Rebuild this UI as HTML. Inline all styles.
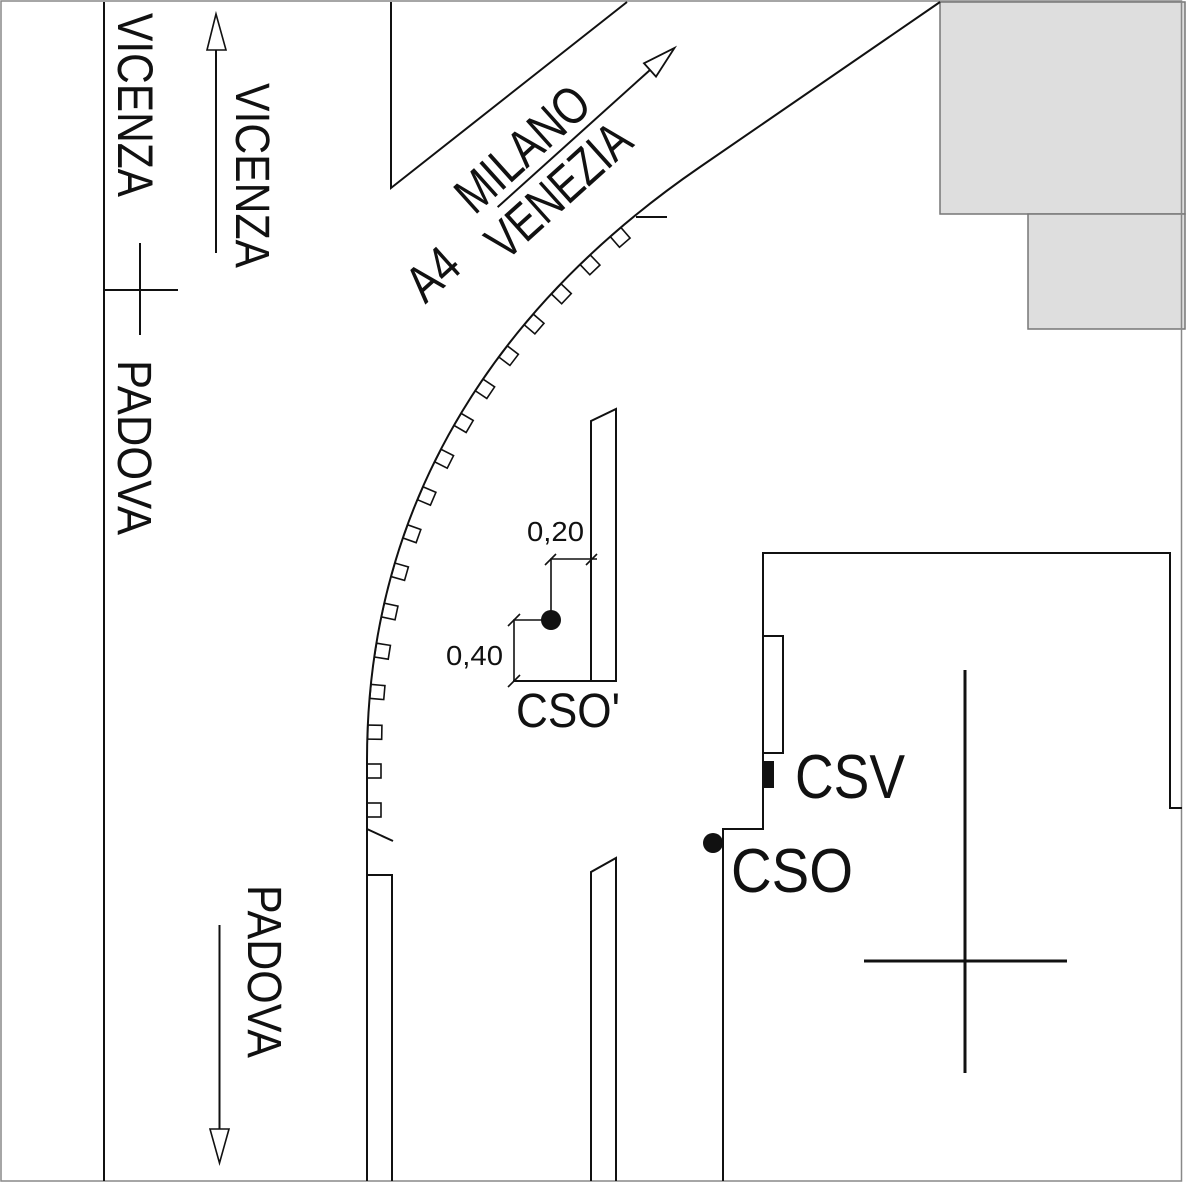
<!DOCTYPE html>
<html>
<head>
<meta charset="utf-8">
<style>
html,body{margin:0;padding:0;background:#fff;}
svg{display:block;}
text{font-family:"Liberation Sans",Arial,sans-serif;fill:#111;}
</style>
</head>
<body>
<svg width="1186" height="1183" viewBox="0 0 1186 1183" xmlns="http://www.w3.org/2000/svg">
<rect x="0" y="0" width="1186" height="1183" fill="#fff"/>

<!-- gray buildings top right -->
<rect x="940" y="2" width="245" height="212" fill="#dedede" stroke="#777" stroke-width="1.5"/>
<rect x="1028" y="214" width="157" height="115" fill="#dedede" stroke="#777" stroke-width="1.5"/>

<!-- frame -->
<rect x="1" y="1" width="1180.5" height="1180" fill="none" stroke="#888" stroke-width="1.5"/>

<g fill="none" stroke="#111" stroke-width="2" stroke-linejoin="miter">
  <!-- left road line and cross -->
  <path d="M104,2 V1181"/>
  <path d="M104,290 H178 M140,243 V335"/>
  <!-- up arrow -->
  <path d="M216,253 V50"/>
  <polygon points="216,14 207,50 226,50" stroke-width="1.6"/>
  <!-- down arrow -->
  <path d="M219.5,925 V1129"/>
  <polygon points="210,1129 229,1129 219.5,1163" stroke-width="1.6"/>

  <!-- upper left road wedge -->
  <path d="M391,2 V188 L627,2"/>

  <!-- curb curve -->
  <path d="M940,2 L700,167 C510.5,297 367,490 367,760 L367,1181"/>
  <path d="M636,217 H667"/>
  <path d="M367,829 L393,841"/>

  <!-- bottom-left island -->
  <path d="M367,1181 V875 H392 V1181"/>
  <!-- middle lower island -->
  <path d="M591,1181 V872 L616,858 V1181"/>
  <!-- upper island (CSO') -->
  <path d="M591,681 V421 L616,409 V681 H513"/>

  <!-- building -->
  <path d="M723,1181 V829 H763 V553 H1170 V808 H1182"/>
  <path d="M763,636 H783 V753 H763"/>
</g>

<!-- curb squares -->
<g fill="none" stroke="#111" stroke-width="1.6">
  <rect x="-7" y="-14" width="14" height="14" transform="translate(615.6,232.1) rotate(139.1)"/>
  <rect x="-7" y="-14" width="14" height="14" transform="translate(585.2,259.8) rotate(136.3)"/>
  <rect x="-7" y="-14" width="14" height="14" transform="translate(556.3,289.0) rotate(133.4)"/>
  <rect x="-7" y="-14" width="14" height="14" transform="translate(528.8,319.5) rotate(130.6)"/>
  <rect x="-7" y="-14" width="14" height="14" transform="translate(503.0,351.4) rotate(127.2)"/>
  <rect x="-7" y="-14" width="14" height="14" transform="translate(479.1,384.9) rotate(123.9)"/>
  <rect x="-7" y="-14" width="14" height="14" transform="translate(457.6,419.4) rotate(120.4)"/>
  <rect x="-7" y="-14" width="14" height="14" transform="translate(437.9,455.6) rotate(116.8)"/>
  <rect x="-7" y="-14" width="14" height="14" transform="translate(420.3,493.3) rotate(113.1)"/>
  <rect x="-7" y="-14" width="14" height="14" transform="translate(405.3,531.4) rotate(109.6)"/>
  <rect x="-7" y="-14" width="14" height="14" transform="translate(393.0,569.8) rotate(105.9)"/>
  <rect x="-7" y="-14" width="14" height="14" transform="translate(382.8,610.0) rotate(102.1)"/>
  <rect x="-7" y="-14" width="14" height="14" transform="translate(375.5,650.1) rotate(99)"/>
  <rect x="-7" y="-14" width="14" height="14" transform="translate(370.4,691.4) rotate(94.9)"/>
  <rect x="-7" y="-14" width="14" height="14" transform="translate(367.8,732.1) rotate(91)"/>
  <rect x="-7" y="-14" width="14" height="14" transform="translate(367,771) rotate(90)"/>
  <rect x="-7" y="-14" width="14" height="14" transform="translate(367,810) rotate(90)"/>
</g>

<!-- dimension lines -->
<g fill="none" stroke="#111" stroke-width="1.6">
  <path d="M514,681 V620 H551"/>
  <path d="M551,620 V559 H597"/>
  <path d="M508,687 L520,675"/>
  <path d="M508,626 L520,614"/>
  <path d="M545,565 L556,554"/>
  <path d="M586,565 L597,554"/>
</g>

<!-- dots and CSV marker -->
<circle cx="551" cy="620" r="10" fill="#111"/>
<circle cx="713" cy="843" r="10" fill="#111"/>
<rect x="764" y="761" width="10" height="27" fill="#111"/>

<!-- big cross -->
<path d="M965,670 V1073 M864,961 H1067" stroke="#111" stroke-width="3" fill="none"/>

<!-- vertical texts -->
<text transform="translate(118,13) rotate(90)" font-size="50" textLength="184" lengthAdjust="spacingAndGlyphs">VICENZA</text>
<text transform="translate(236,83) rotate(90)" font-size="48" textLength="185" lengthAdjust="spacingAndGlyphs">VICENZA</text>
<text transform="translate(118,360) rotate(90)" font-size="48" textLength="175" lengthAdjust="spacingAndGlyphs">PADOVA</text>
<text transform="translate(248,885) rotate(90)" font-size="48" textLength="173" lengthAdjust="spacingAndGlyphs">PADOVA</text>

<!-- A4 MILANO / VENEZIA -->
<g transform="translate(540,169) rotate(-42)">
  <text x="-80" y="-9" font-size="52" textLength="161" lengthAdjust="spacingAndGlyphs">MILANO</text>
  <text x="-88" y="46" font-size="52" textLength="175" lengthAdjust="spacingAndGlyphs">VENEZIA</text>
  <text x="-176" y="24" font-size="52" textLength="52" lengthAdjust="spacingAndGlyphs">A4</text>
  <path d="M-57,0 H148" stroke="#111" stroke-width="2" fill="none"/>
  <polygon points="181,0 148,-9 148,9" fill="none" stroke="#111" stroke-width="1.8"/>
</g>

<!-- labels -->
<text x="527" y="541" font-size="28" textLength="57" lengthAdjust="spacingAndGlyphs">0,20</text>
<text x="446" y="665" font-size="28" textLength="57" lengthAdjust="spacingAndGlyphs">0,40</text>
<text x="516" y="727" font-size="48" textLength="104" lengthAdjust="spacingAndGlyphs">CSO'</text>
<text x="795" y="798" font-size="62" textLength="110" lengthAdjust="spacingAndGlyphs">CSV</text>
<text x="731" y="892" font-size="62" textLength="122" lengthAdjust="spacingAndGlyphs">CSO</text>
</svg>
</body>
</html>
